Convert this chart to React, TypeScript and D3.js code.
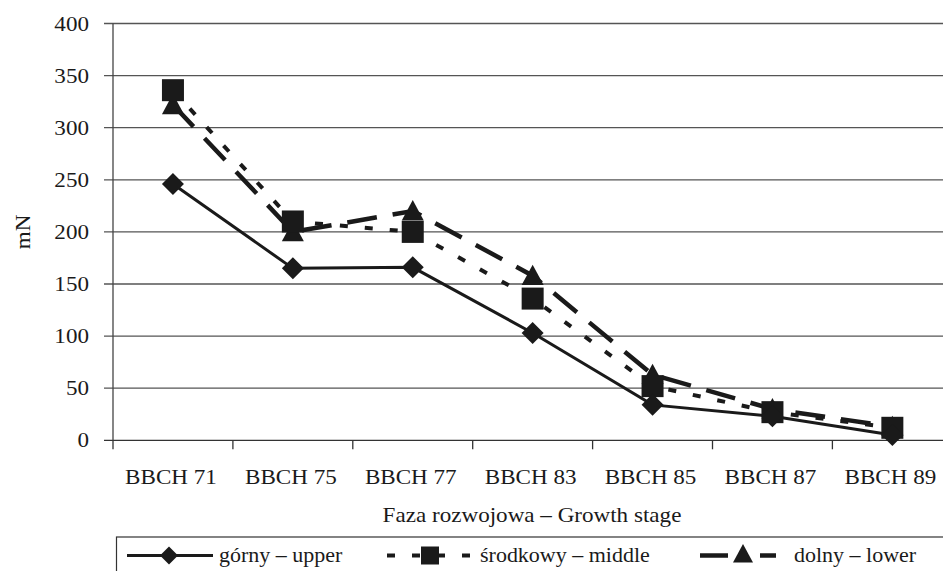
import React from "react";
import * as d3 from "d3";

const stages = ["BBCH 71", "BBCH 75", "BBCH 77", "BBCH 83", "BBCH 85", "BBCH 87", "BBCH 89"];
const upper = [246, 165, 166, 103, 34, 23, 5];
const middle = [336, 210, 200, 136, 52, 27, 12];
const lower = [322, 200, 220, 158, 63, 30, 13];
const yTicks = [0, 50, 100, 150, 200, 250, 300, 350, 400];

const W = 943;
const H = 571;
const left = 113;
const top = 23.5;
const bottom = 440.3;
const right = 113 + 7 * 119.9;

const FONT = "Liberation Serif";

// scan looks horizontally stretched, so text is widened a bit
function T({ x, y, children, anchor = "middle", size = 21, rotate = 0 }: any) {
  return (
    <text
      transform={`translate(${x},${y}) rotate(${rotate}) scale(1.1,1)`}
      textAnchor={anchor}
      style={{ fontFamily: FONT, fontSize: size }}
      fill="#1a1a1a"
    >
      {children}
    </text>
  );
}

function Marker({ kind, x, y, s = 11 }: { kind: string; x: number; y: number; s?: number }) {
  if (kind === "diamond") {
    return <path d={`M${x},${y - s}L${x + s},${y}L${x},${y + s}L${x - s},${y}Z`} fill="#1a1a1a" />;
  }
  if (kind === "square") {
    return <rect x={x - s} y={y - s} width={2 * s} height={2 * s} fill="#1a1a1a" />;
  }
  return <path d={`M${x},${y - s}L${x + s},${y + s * 0.85}L${x - s},${y + s * 0.85}Z`} fill="#1a1a1a" />;
}

const series = [
  { name: "dolny – lower", values: lower, marker: "triangle", dash: "30,16", width: 4.5 },
  { name: "środkowy – middle", values: middle, marker: "square", dash: "8,17", width: 4 },
  { name: "górny – upper", values: upper, marker: "diamond", dash: "", width: 3 },
];

export default function App() {
  const x = d3.scaleBand<string>().domain(stages).range([left, right]).paddingInner(0).paddingOuter(0);
  const y = d3.scaleLinear().domain([0, 400]).range([bottom, top]);
  const cx = (s: string) => (x(s) || 0) + x.bandwidth() / 2;

  const line = d3
    .line<number>()
    .x((_, i) => cx(stages[i]))
    .y((d) => y(d));

  return (
    <svg width={W} height={H} style={{ position: "absolute", left: 0, top: 0, background: "#fff" }}>
      {/* gridlines */}
      {yTicks.map((t) => (
        <line key={t} x1={left - 9} x2={right} y1={y(t)} y2={y(t)} stroke={t === 0 ? "#333" : "#555"} strokeWidth={1.3} />
      ))}
      <line x1={left} x2={left} y1={top} y2={bottom} stroke="#444" strokeWidth={1.3} />
      {d3.range(stages.length + 1).map((i) => (
        <line key={i} x1={left + i * x.step()} x2={left + i * x.step()} y1={bottom} y2={bottom + 9} stroke="#333" strokeWidth={1.3} />
      ))}

      {/* y tick labels */}
      {yTicks.map((t) => (
        <T key={t} x={89} y={y(t) + 7} anchor="end">{t}</T>
      ))}
      {/* x tick labels */}
      {stages.map((s) => (
        <T key={s} x={cx(s) - 2} y={484}>{s}</T>
      ))}

      <T x={532} y={522}>Faza rozwojowa – Growth stage</T>
      <T x={30} y={232} rotate={-90}>mN</T>

      {/* series */}
      {series.map((sr) => (
        <g key={sr.name}>
          <path d={line(sr.values) || ""} fill="none" stroke="#1a1a1a" strokeWidth={sr.width} strokeDasharray={sr.dash || undefined} />
          {sr.values.map((v, i) => (
            <Marker key={i} kind={sr.marker} x={cx(stages[i])} y={y(v)} />
          ))}
        </g>
      ))}

      {/* legend */}
      <rect x={116.5} y={537} width={W} height={60} fill="#fff" stroke="#333" strokeWidth={1.2} />
      <line x1={127} x2={213} y1={555.5} y2={555.5} stroke="#1a1a1a" strokeWidth={3} />
      <Marker kind="diamond" x={169} y={555.5} s={9} />
      <T x={219} y={562} anchor="start" size={20}>górny – upper</T>

      <line x1={387} x2={472} y1={555.5} y2={555.5} stroke="#1a1a1a" strokeWidth={4} strokeDasharray="8,17" />
      <Marker kind="square" x={430} y={555.5} s={9} />
      <T x={480} y={562} anchor="start" size={20}>środkowy – middle</T>

      <line x1={700} x2={776} y1={555.5} y2={555.5} stroke="#1a1a1a" strokeWidth={4.5} strokeDasharray="28,32" />
      <Marker kind="triangle" x={743} y={554} s={10} />
      <T x={794} y={562} anchor="start" size={20}>dolny – lower</T>
    </svg>
  );
}
